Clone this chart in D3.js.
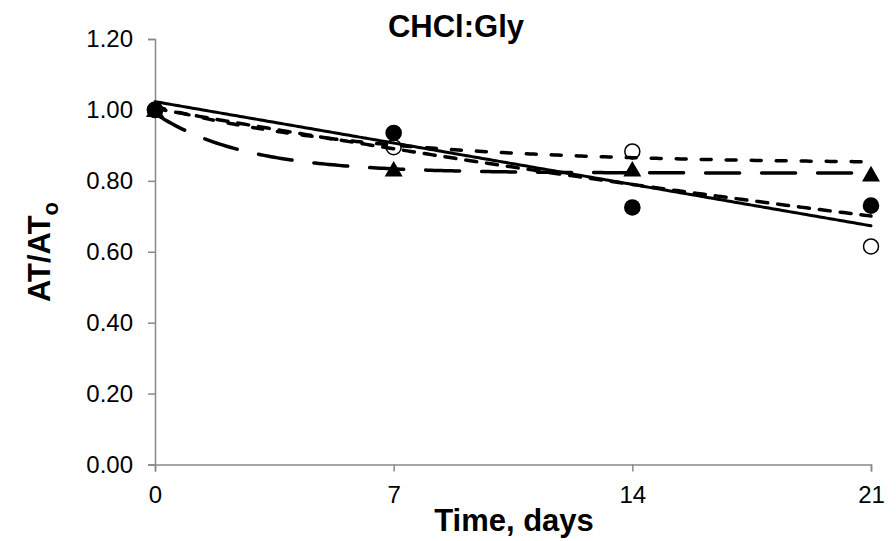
<!DOCTYPE html>
<html>
<head>
<meta charset="utf-8">
<script src="https://cdn.jsdelivr.net/npm/d3@7"></script>
<style>
  html, body { margin: 0; padding: 0; background: #fff; }
  svg text { font-family: "Liberation Sans", Arial, sans-serif; }
</style>
</head>
<body>
<svg id="chart" width="896" height="541"></svg>
<script>
// Storage time (days) and relative activity AT/ATo for each sample
const days = [0, 7, 14, 21];
const filledCircle = [1.00, 0.935, 0.725, 0.73];
const openCircle = [1.00, 0.895, 0.883, 0.615];
const triangle = [0.995, 0.827, 0.827, 0.813];

// Axis ticks
const xTicks = [0, 7, 14, 21];
const yTicks = [0, 0.2, 0.4, 0.6, 0.8, 1.0, 1.2];

// First-order decay towards a plateau: y = plateau + amp * exp(-rate * t)
const plateauFitTriangle = { plateau: 0.822, amp: 0.168, rate: 0.38 };
const plateauFitUpper = { plateau: 0.848, amp: 0.162, rate: 0.16 };

const svg = d3.select("#chart");
const margin = { top: 39, right: 25, bottom: 76.5, left: 155 };
const W = 896, H = 541;

const x = d3.scaleLinear().domain([0, 21]).range([margin.left, W - margin.right]);
const y = d3.scaleLinear().domain([0, 1.2]).range([H - margin.bottom, margin.top]);

const axisColor = "#888888";

// Y axis
const yAxis = svg.append("g")
  .attr("transform", `translate(${margin.left},0)`)
  .call(d3.axisLeft(y).tickValues(yTicks).tickFormat(d3.format(".2f")).tickSize(7).tickPadding(15));
// X axis
const xAxis = svg.append("g")
  .attr("transform", `translate(0,${H - margin.bottom})`)
  .call(d3.axisBottom(x).tickValues(xTicks).tickFormat(d3.format("d")).tickSize(7).tickPadding(14));

[yAxis, xAxis].forEach(g => {
  g.select(".domain").attr("stroke", axisColor).attr("stroke-width", 1.5);
  g.selectAll(".tick line").attr("stroke", axisColor).attr("stroke-width", 1.5);
  g.selectAll(".tick text").attr("fill", "#000").style("font-size", "24px");
});

// Least-squares helpers for the trend lines
function linearFit(xs, ys) {
  const mx = d3.mean(xs), my = d3.mean(ys);
  const sxy = d3.sum(xs, (v, i) => (v - mx) * (ys[i] - my));
  const sxx = d3.sum(xs, v => (v - mx) * (v - mx));
  const slope = sxy / sxx;
  return { slope, intercept: my - slope * mx };
}
const lin = linearFit(days, openCircle);
const expo = linearFit(days, filledCircle.map(Math.log));

const tGrid = d3.range(0, 21.0001, 0.1);
const lineGen = d3.line().x(d => x(d[0])).y(d => y(d[1]));

const markers = svg.append("g");
const curves = svg.append("g").attr("fill", "none").attr("stroke", "#000").attr("stroke-linecap", "round");

// Linear trend (solid)
curves.append("path")
  .attr("d", lineGen(tGrid.map(t => [t, lin.intercept + lin.slope * t])))
  .attr("stroke-width", 3);
// Exponential trend (short dash)
curves.append("path")
  .attr("d", lineGen(tGrid.map(t => [t, Math.exp(expo.intercept + expo.slope * t)])))
  .attr("stroke-width", 3.5).attr("stroke-dasharray", "11,10");
// Plateau decay, upper curve (short dash)
curves.append("path")
  .attr("d", lineGen(tGrid.map(t => [t, plateauFitUpper.plateau + plateauFitUpper.amp * Math.exp(-plateauFitUpper.rate * t)])))
  .attr("stroke-width", 3.5).attr("stroke-dasharray", "10,15");
// Plateau decay for triangles (long dash)
curves.append("path")
  .attr("d", lineGen(tGrid.map(t => [t, plateauFitTriangle.plateau + plateauFitTriangle.amp * Math.exp(-plateauFitTriangle.rate * t)])))
  .attr("stroke-width", 3.5).attr("stroke-dasharray", "34,22");

// Markers
const tri = d3.symbol().type(d3.symbolTriangle).size(140);
markers.selectAll(".tri").data(days).join("path")
  .attr("transform", (d, i) => `translate(${x(d)},${y(triangle[i])})`)
  .attr("d", tri).attr("fill", "#000");
markers.selectAll(".open").data(days).join("circle")
  .attr("cx", d => x(d)).attr("cy", (d, i) => y(openCircle[i]))
  .attr("r", 7.5).attr("fill", "#fff").attr("stroke", "#000").attr("stroke-width", 1.5);
markers.selectAll(".filled").data(days).join("circle")
  .attr("cx", d => x(d)).attr("cy", (d, i) => y(filledCircle[i]))
  .attr("r", 8.3).attr("fill", "#000");

// Titles
svg.append("text").attr("x", 456).attr("y", 37).attr("text-anchor", "middle")
  .style("font-size", "31px").style("font-weight", "bold").text("CHCl:Gly");
svg.append("text").attr("x", 514).attr("y", 531).attr("text-anchor", "middle")
  .style("font-size", "31px").style("font-weight", "bold").text("Time, days");
const yt = svg.append("text")
  .attr("transform", "translate(50,252) rotate(-90)")
  .attr("text-anchor", "middle")
  .style("font-size", "31px").style("font-weight", "bold");
yt.append("tspan").text("AT/AT");
yt.append("tspan").attr("dy", 8).style("font-size", "22px").text("o");
</script>
</body>
</html>
